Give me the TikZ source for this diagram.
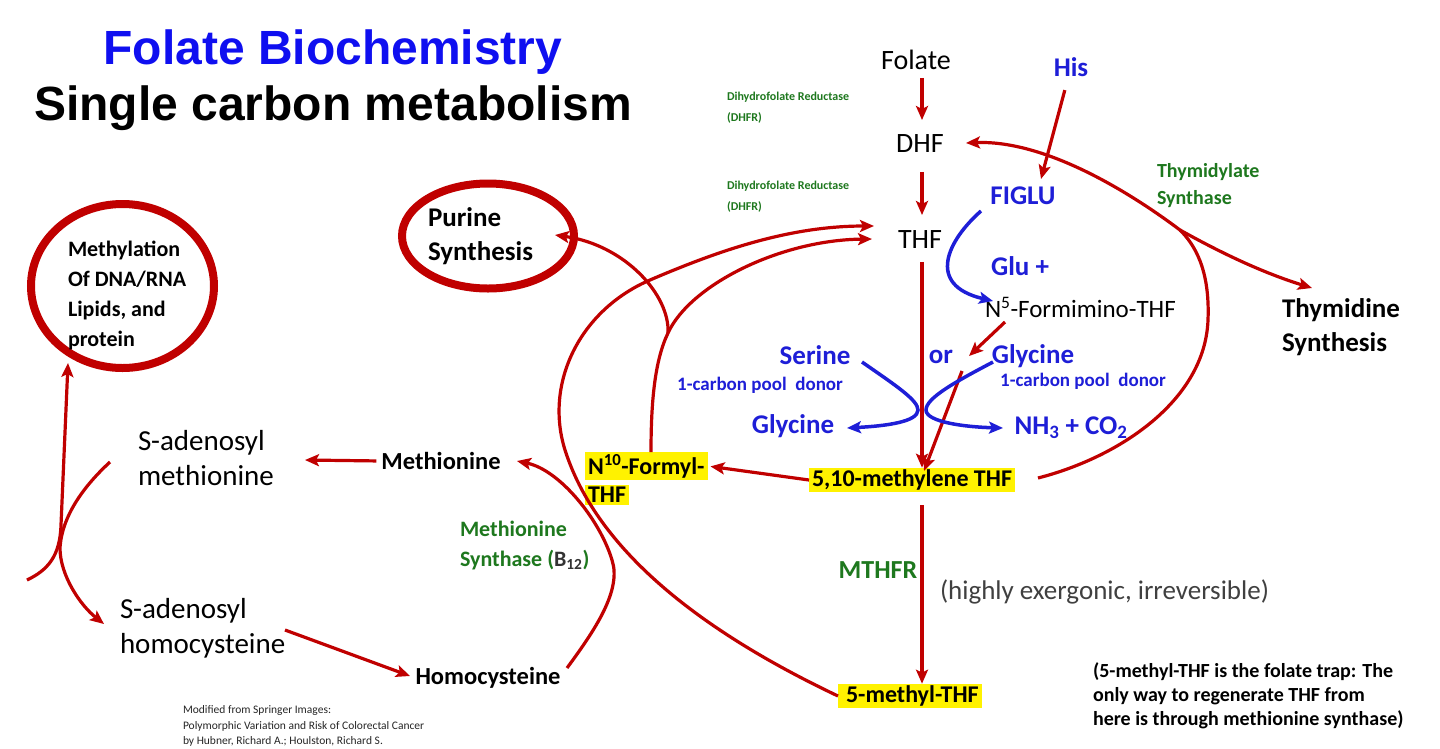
\documentclass[tikz,border=0pt]{standalone}
\usepackage{fontspec}
\setmainfont{Carlito}
\newfontfamily\titlefont{Liberation Sans}
\usetikzlibrary{arrows.meta,shapes.geometric}
\definecolor{dred}{RGB}{192,0,0}
\definecolor{lblue}{RGB}{30,30,215}
\definecolor{tblue}{RGB}{15,15,240}
\definecolor{lgreen}{RGB}{30,120,30}
\definecolor{graytxt}{RGB}{64,64,64}
\begin{document}
\begin{tikzpicture}[x=1pt,y=-1pt,
  every node/.style={inner sep=0pt,outer sep=0pt},
  arr/.style={draw=dred,line width=3.2pt,-{Stealth[length=14pt,width=12pt,inset=3pt]}},
  barr/.style={draw=lblue,line width=3.5pt,-{Stealth[length=14pt,width=12pt,inset=3pt]}},
  blk/.style={text=black,font=\fontsize{28}{34}\selectfont},
  blkb/.style={text=black,font=\bfseries\fontsize{27}{34}\selectfont},
  bl/.style={text=lblue,font=\bfseries\fontsize{27}{32}\selectfont},
  blsm/.style={text=lblue,font=\bfseries\fontsize{19}{22}\selectfont},
  gsm/.style={text=lgreen,font=\bfseries\fontsize{12}{21}\selectfont,align=left,anchor=west},
  hl/.style={fill=yellow,inner xsep=3pt,inner ysep=2pt,text=black,font=\bfseries\fontsize{24}{28}\selectfont},
  ring/.style={draw=dred,line width=8pt,ellipse},
  ttl/.style={font=\titlefont\bfseries\fontsize{48}{56}\selectfont,anchor=base}
]
\useasboundingbox[fill=white] (0,0) rectangle (1440,748);

% titles
\node[ttl,text=tblue] (t1) at (333,64) {Folate Biochemistry};
\node[ttl,text=black] (t2) at (333,120) {Single carbon metabolism};

% spine nodes
\coordinate (spine) at (922,0);
\node[blk] (folate) at (916,60) {Folate};
\node[blk] (dhf) at (920,144) {DHF};
\node[blk] (thf) at (920,240) {THF};
\node[hl] (m10) at (912,480) {5,10-methylene THF};
\node[hl,anchor=west] (m5) at (838,696) {\hspace{5pt}5-methyl-THF\hspace{28pt}};
\node[hl,anchor=west] (n10a) at (585,466) {N\textsuperscript{10}-Formyl-};
\node[hl,anchor=west] (n10b) at (585,495) {THF};

% blue labels
\node[bl] (his) at (1071,67) {His};
\node[bl] (figlu) at (1023,196) {FIGLU};
\node[bl] (glu) at (1020,266) {Glu +};
\node[text=black,font=\fontsize{25}{30}\selectfont,anchor=west] (n5) at (985,307) {N\textsuperscript{5}-Formimino-THF};
\node[bl] (ser) at (815,355) {Serine};
\node[blsm] (cp1) at (760,385) {1-carbon pool\ \ donor};
\node[bl] (or) at (941,357) {or};
\node[bl] (gly2) at (1033,356) {Glycine};
\node[blsm] (cp2) at (1083,381) {1-carbon pool\ \ donor};
\node[bl] (gly1) at (793,426) {Glycine};
\node[bl] (nh3) at (1071,428) {NH\textsubscript{3} + CO\textsubscript{2}};

% green labels
\node[gsm] (dhfr1) at (727,107.5) {Dihydrofolate Reductase\\(DHFR)};
\node[gsm] (dhfr2) at (727,196.5) {Dihydrofolate Reductase\\(DHFR)};
\node[text=lgreen,font=\bfseries\fontsize{20}{27}\selectfont,align=left,anchor=west] (ts) at (1157,185.5) {Thymidylate\\Synthase};
\node[text=lgreen,font=\bfseries\fontsize{26}{30}\selectfont] (mthfr) at (878,570) {MTHFR};
\node[text=lgreen,font=\bfseries\fontsize{22}{30}\selectfont,align=left,anchor=west] (ms) at (460,545) {Methionine\\Synthase (\textcolor{black!80}{B\textsubscript{12}})};

% black labels
\node[blkb,align=left,anchor=west] (thy) at (1282,327) {Thymidine\\Synthesis};
\node[ring,minimum width=172pt,minimum height=105pt] (purine) at (488,236) {};
\node[blkb,align=left,anchor=west] (purtxt) at (428,236) {Purine\\Synthesis};
\node[ring,minimum width=183pt,minimum height=164pt] (methyl) at (122.5,286) {};
\node[text=black,font=\bfseries\fontsize{22}{30.3}\selectfont,align=left,anchor=west] (mettxt) at (68,295.5) {Methylation\\Of DNA/RNA\\Lipids, and\\protein};
\node[text=black,font=\fontsize{29}{35}\selectfont,align=left,anchor=west] (sam) at (138,458.5) {S-adenosyl\\methionine};
\node[text=black,font=\fontsize{29}{35}\selectfont,align=left,anchor=west] (sah) at (120,628) {S-adenosyl\\homocysteine};
\node[text=black,font=\bfseries\fontsize{24.5}{28}\selectfont] (met) at (441,461) {Methionine};
\node[text=black,font=\bfseries\fontsize{24.5}{28}\selectfont] (hcy) at (488,678) {Homocysteine};
\node[text=graytxt,font=\fontsize{27}{30}\selectfont,anchor=west] (exer) at (940,592) {(highly exergonic, irreversible)};
\node[text=black,font=\bfseries\fontsize{20}{24}\selectfont,align=left,anchor=west] (note) at (1093,696) {(5-methyl-THF is the folate trap: The\\only way to regenerate THF from\\here is through methionine synthase)};
\node[text=black!85,font=\fontsize{11.5}{15.5}\selectfont,align=left,anchor=west] (cite) at (183,726) {Modified from Springer Images:\\Polymorphic Variation and Risk of Colorectal Cancer\\by Hubner, Richard A.; Houlston, Richard S.};

% connector end points
\coordinate (figluIn) at (1041,179);
\coordinate (fgA) at (981,211);
\coordinate (n5In) at (993,301);
\coordinate (n5A) at (1005,322);
\coordinate (orTip) at (969,356);
\coordinate (gA) at (962,371);
\coordinate (mIn) at (924,471);
\coordinate (serA) at (862,362);
\coordinate (gly1In) at (847,428);
\coordinate (gly2A) at (993,362);
\coordinate (nh3In) at (1003,428);
\coordinate (n10up) at (651,452);
\coordinate (J1) at (668,333);
\coordinate (thfIn1) at (874,226);
\coordinate (thfIn2) at (872,239);
\coordinate (purIn) at (555,235);
\coordinate (hcyA) at (567,668);
\coordinate (metIn) at (517,461);
\coordinate (samIn) at (305,460);
\coordinate (sahA) at (285,630);
\coordinate (hcyIn) at (410,676);
\coordinate (samA) at (110,462);
\coordinate (sahIn) at (104,624);
\coordinate (free) at (27,580);
\coordinate (methIn) at (68,363);
\coordinate (loopA) at (1038,478);
\coordinate (J2) at (1180,230);
\coordinate (dhfIn) at (966,143);
\coordinate (thyIn) at (1312,288);

% spine arrows
\draw[arr,shorten <=8pt,shorten >=15pt] (folate.south -| spine) -- (dhf.north -| spine);
\draw[arr,shorten <=19pt,shorten >=16pt] (dhf.south -| spine) -- (thf.north -| spine);
\draw[arr,shorten <=13pt] (thf.south -| spine) -- (m10.north -| spine);
\draw[arr,shorten <=13pt] (m10.south -| spine) -- (m5.north -| spine);

% 5,10 -> N10
\draw[arr,shorten >=3pt] (m10.west) -- (n10a.east);

% His -> FIGLU
\draw[arr,shorten <=14pt] (his) -- (figluIn);

% FIGLU -> N5-formimino (blue)
\draw[barr] (fgA) .. controls (948,240) and (925,285) .. (n5In);

% N5 -> or ; glycine -> 5,10
\draw[arr] (n5A) -- (orTip);
\draw[arr] (gA) -- (mIn);

% Serine -> Glycine ; Glycine -> NH3 + CO2
\draw[barr] (serA) .. controls (895,385) and (918,400) .. (918,410) .. controls (918,422) and (885,426) .. (gly1In);
\draw[barr] (gly2A) .. controls (955,382) and (926,398) .. (926,410) .. controls (926,422) and (965,427) .. (nh3In);

% N10-formyl -> THF and -> Purine
\draw[arr] (n10up) .. controls (651,400) and (655,360) .. (J1) .. controls (690,285) and (780,240) .. (thfIn2);
\draw[arr] (J1) .. controls (670,295) and (625,245) .. (purIn);

% 5-methyl-THF -> THF
\draw[arr] (m5.west) .. controls (720,640) and (600,560) .. (565,450) .. controls (544,383) and (580,310) .. (650,280) .. controls (720,250) and (790,226) .. (thfIn1);

% Homocysteine -> Methionine
\draw[arr] (hcyA) .. controls (595,630) and (622,590) .. (612,560) .. controls (600,520) and (560,470) .. (metIn);

% Methionine -> SAM ; SAH -> Homocysteine
\draw[arr,shorten <=5pt] (met.west) -- (samIn);
\draw[arr] (sahA) -- (hcyIn);

% SAM -> SAH ; -> Methylation
\draw[arr] (samA) .. controls (85,485) and (62,515) .. (60,548) .. controls (60,575) and (80,605) .. (sahIn);
\draw[arr] (free) .. controls (48,570) and (60,556) .. (61,525) -- (methIn);

% 5,10-methylene -> DHF (thymidylate synthase) and -> Thymidine
\draw[arr] (loopA) .. controls (1120,457) and (1205,400) .. (1208,320) .. controls (1210,270) and (1195,245) .. (J2) .. controls (1120,185) and (1040,140) .. (dhfIn);
\draw[arr] (J2) .. controls (1230,258) and (1270,275) .. (thyIn);
\end{tikzpicture}
\end{document}
